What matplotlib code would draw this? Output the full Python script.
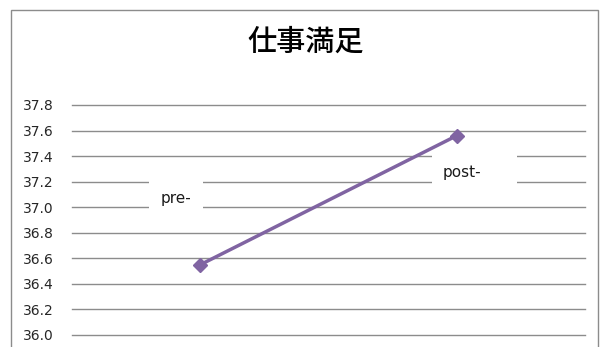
import matplotlib.pyplot as plt
from matplotlib.patches import Rectangle

# chart data
categories = ['pre-', 'post-']
scores = [36.55, 37.56]
y_ticks = [36.0, 36.2, 36.4, 36.6, 36.8, 37.0, 37.2, 37.4, 37.6, 37.8]
title = '仕事満足'

plt.rcParams['font.family'] = ['Noto Sans CJK JP', 'DejaVu Sans']

fig = plt.figure(figsize=(6.01, 3.47), dpi=100)

# outer chart frame (the picture is cropped at the bottom)
fig.patches.append(Rectangle((11 / 601, -0.1), 587 / 601, 1.1 - 10 / 347,
                             transform=fig.transFigure, fill=False,
                             edgecolor='#8c8c8c', linewidth=1.0))

ax = fig.add_axes([72 / 601, 12 / 347, 513 / 601, 230 / 347])
ax.set_xlim(-0.5, 1.5)
ax.set_ylim(36.0, 37.8)
ax.set_yticks(y_ticks)
ax.set_yticklabels([f'{v:.1f}' for v in y_ticks], family='DejaVu Sans',
                   fontsize=10, color='#262626')
ax.tick_params(axis='y', length=0, pad=13)
ax.set_xticks([])
for s in ax.spines.values():
    s.set_visible(False)
for v in y_ticks:
    ax.axhline(v, color='#8c8c8c', linewidth=1.0, zorder=1, clip_on=False)

x = list(range(len(categories)))
ax.plot(x, scores, color='#8064a2', linewidth=2.5, marker='D',
        markersize=7, zorder=4, clip_on=False)

# category labels sitting inside the plot area on white boxes
label_pos = [(-0.095, 37.07), (1.02, 37.27)]
label_boxes = [(-0.20, 36.9, 0.21, 0.4), (0.904, 37.1, 0.33, 0.4)]
for name, (lx, ly), (bx, by, bw, bh) in zip(categories, label_pos, label_boxes):
    ax.add_patch(Rectangle((bx, by), bw, bh, facecolor='white',
                           edgecolor='none', zorder=2))
    ax.text(lx, ly, name, ha='center', va='center', fontsize=11,
            family='DejaVu Sans', color='#1a1a1a', zorder=3)

fig.text(306 / 601, 1 - 42 / 347, title, ha='center', va='center',
         fontsize=21, fontweight='medium', color='black')

fig.savefig('out.png', dpi=100)
